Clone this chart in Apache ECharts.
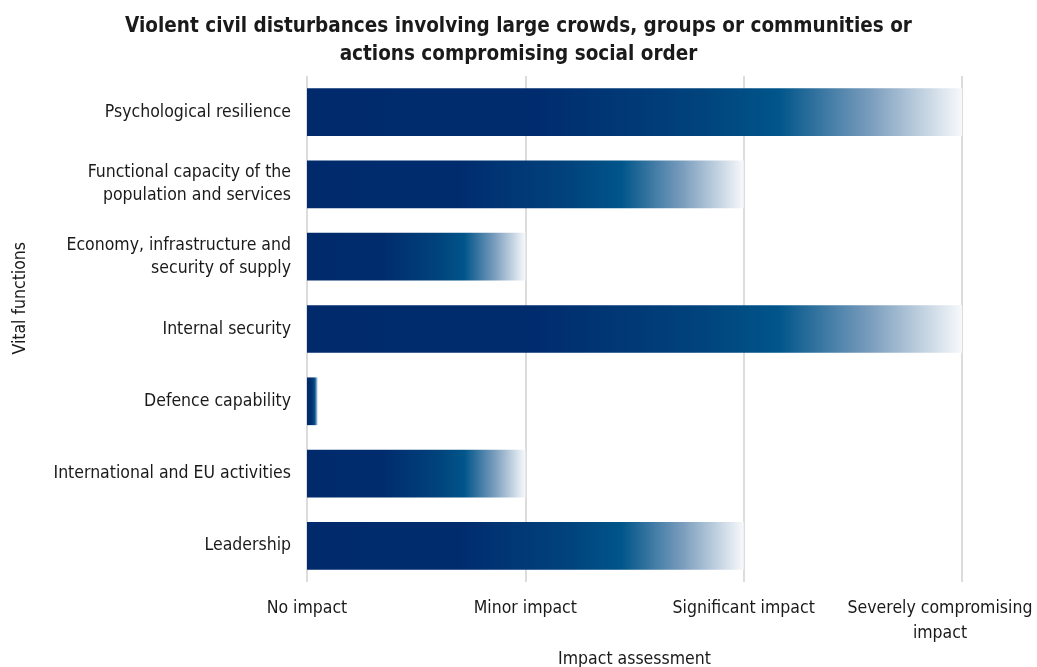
<!DOCTYPE html>
<html>
<head>
<meta charset="utf-8">
<script src="https://cdn.jsdelivr.net/npm/echarts@6/dist/echarts.min.js"></script>
<style>
  html, body { margin: 0; padding: 0; background: #ffffff; }
  #chart { width: 1037px; height: 667px; }
</style>
</head>
<body>
<div id="chart"></div>
<script>
// Vital functions, listed bottom to top as the category axis draws them
const functions = [
  'Leadership',
  'International and EU activities',
  'Defence capability',
  'Internal security',
  'Economy, infrastructure and\nsecurity of supply',
  'Functional capacity of the\npopulation and services',
  'Psychological resilience'
];
// Impact level per function (0 = no impact ... 3 = severely compromising)
const impact = [2, 1, 0.05, 3, 1, 2, 3];
// Impact scale tick labels
const levels = ['No impact', 'Minor impact', 'Significant impact', 'Severely compromising\nimpact'];

const FONT = '"DejaVu Sans Condensed", "Liberation Sans Narrow", sans-serif';
const INK = '#1a1a1a';
const FS = 17.5;

// Each bar fades from navy through blue to white at its end
const barFill = new echarts.graphic.LinearGradient(0, 0, 1, 0, [
  { offset: 0, color: '#002a6c' },
  { offset: 0.35, color: '#002c6e' },
  { offset: 0.6, color: '#01437c' },
  { offset: 0.72, color: '#00558a' },
  { offset: 0.86, color: '#7a9dbd' },
  { offset: 1, color: '#f7f9fb' }
]);

const chart = echarts.init(document.getElementById('chart'), null, { renderer: 'canvas' });
chart.setOption({
  animation: false,
  backgroundColor: '#ffffff',
  title: {
    text: 'Violent civil disturbances involving large crowds, groups or communities or\nactions compromising social order',
    left: 'center',
    top: 8,
    textStyle: { fontFamily: FONT, fontWeight: 'bold', fontSize: 20.5, lineHeight: 28, color: INK }
  },
  grid: { left: 307, right: 75, top: 76, bottom: 85, containLabel: false, outerBoundsMode: 'none' },
  xAxis: {
    type: 'value',
    min: 0,
    max: 3,
    interval: 1,
    name: 'Impact assessment',
    nameLocation: 'middle',
    nameGap: 66,
    nameTextStyle: { fontFamily: FONT, fontSize: FS, color: INK },
    axisLine: { show: false },
    axisTick: { show: false },
    splitLine: { show: true, lineStyle: { color: '#dcdcdc', width: 2 } },
    axisLabel: {
      margin: 14,
      hideOverlap: false,
      showMinLabel: true,
      showMaxLabel: true,
      fontFamily: FONT,
      fontSize: FS,
      lineHeight: 25,
      color: INK,
      formatter: function (v) {
        const t = levels[Math.round(v)];
        return v === 3 ? '{last|' + t.split('\n').join('}\n{last|') + '}' : t;
      },
      rich: {
        last: { fontFamily: FONT, fontSize: FS, lineHeight: 25, color: INK, padding: [0, 44, 0, 0] }
      }
    }
  },
  yAxis: {
    type: 'category',
    data: functions,
    axisLine: { show: false },
    axisTick: { show: false },
    axisLabel: { margin: 16, fontFamily: FONT, fontSize: FS, lineHeight: 23, color: INK, align: 'right' }
  },
  graphic: [{
    type: 'text',
    left: 11,
    top: 242,
    rotation: Math.PI / 2,
    style: { text: 'Vital functions', fontFamily: FONT, fontSize: FS, fill: INK }
  }],
  series: [{
    type: 'bar',
    data: impact,
    barWidth: '66%',
    itemStyle: { color: barFill },
    silent: true
  }]
});
</script>
</body>
</html>
